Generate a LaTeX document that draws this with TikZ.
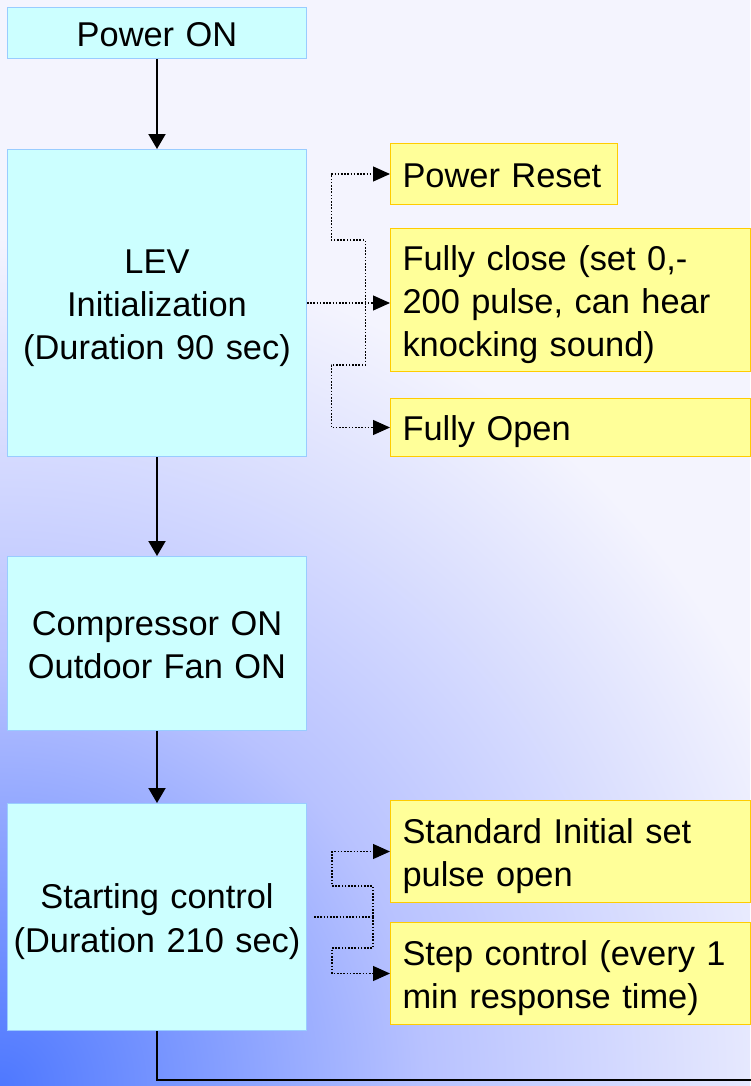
\documentclass[tikz,border=0pt]{standalone}
\usepackage{fontspec}
\setmainfont{Liberation Sans}
\usetikzlibrary{arrows.meta,positioning,calc}
\definecolor{boxcyan}{HTML}{CCFFFF}
\definecolor{cyanline}{HTML}{99CCFF}
\definecolor{boxyellow}{HTML}{FFFF99}
\definecolor{yellowline}{HTML}{FFCC00}
\definecolor{bgcorner}{HTML}{4E78FF}
\definecolor{bgmid}{HTML}{B8C2FF}
\definecolor{bgouter}{HTML}{F4F4FE}
\pgfdeclareradialshading{bgglow}{\pgfpoint{0bp}{0bp}}{color(0bp)=(bgcorner); color(12.5bp)=(bgmid); color(25bp)=(bgouter); color(50bp)=(bgouter)}

\begin{document}
\begin{tikzpicture}[
  x=1pt, y=1pt,
  font=\fontsize{17.2}{21.6}\selectfont,
  textstrut/.style={execute at begin node={\rule{0pt}{18pt}}, execute at end node={\rule[-4.6pt]{0pt}{0pt}}},
  stage/.style={draw=cyanline, line width=0.5pt, fill=boxcyan, align=center, text width=149.5pt, inner sep=0pt, textstrut},
  option/.style={draw=yellowline, line width=0.5pt, fill=boxyellow, align=left, anchor=north west, inner xsep=6pt, inner ysep=0pt, text width=#1, textstrut},
  option/.default=168pt,
  flow/.style={-{Triangle[length=7.5pt,width=8.5pt]}, line width=1pt},
  dotline/.style={line width=0.6pt, dash pattern=on 0.8pt off 0.8pt},
  dotflow/.style={dotline, -{Triangle[length=8.5pt,width=7.5pt]}}
]
\useasboundingbox (0,0) rectangle (375,-543);
\fill[bgouter] (0,0) rectangle (375,-543);
\begin{scope}
  \clip (0,0) rectangle (375,-543);
  \shade[shading=bgglow] (0,-543) circle (425);
\end{scope}

% main flow
\node[stage, minimum height=25.5pt, anchor=north west] (power) at (3.5,-3.5) {Power ON};
\node[stage, minimum height=153.5pt, below=45pt of power] (lev) {LEV\\Initialization\\(Duration 90 sec)};
\node[stage, minimum height=87pt, below=49.5pt of lev] (comp) {Compressor ON\\Outdoor Fan ON};
\node[stage, minimum height=113.5pt, below=36pt of comp] (start) {Starting control\\(Duration 210 sec)};

% valve steps
\node[option=101.5pt, minimum height=30.5pt] (reset) at (195,-71.5) {Power Reset};
\node[option, minimum height=71.5pt] (close) at (195,-114) {Fully close (set 0,-\\200 pulse, can hear\\knocking sound)};
\node[option, minimum height=29pt] (open) at (195,-199) {Fully Open};
\node[option, minimum height=51pt] (std) at (195,-400) {Standard Initial set\\pulse open};
\node[option, minimum height=51pt] (stepc) at (195,-461) {Step control (every 1\\min response time)};

\draw[flow] (power) -- (lev);
\draw[flow] (lev) -- (comp);
\draw[flow] (comp) -- (start);
\coordinate (loopend) at (380,-540);
\draw[line width=1pt] (start.south) |- (loopend);

\coordinate (levhub) at ($(lev.east)!0.7!(lev.east -| close.west)$);
\draw[dotflow] (lev.east) -- (lev.east -| close.west);
\draw[dotflow] (levhub) -- ++(0,31.5) -- ++(-17,0) |- (reset.west);
\draw[dotflow] (levhub) -- ++(0,-31) -- ++(-17,0) |- (open.west);

\coordinate (starthub) at ($(start.east)+(33,0)$);
\draw[dotline] ([xshift=3.5pt]start.east) -- (starthub);
\draw[dotflow] (starthub) -- ++(0,15.5) -- ++(-20.5,0) |- (std.west);
\draw[dotflow] (starthub) -- ++(0,-15.5) -- ++(-20.5,0) |- (stepc.west);
\end{tikzpicture}
\end{document}
